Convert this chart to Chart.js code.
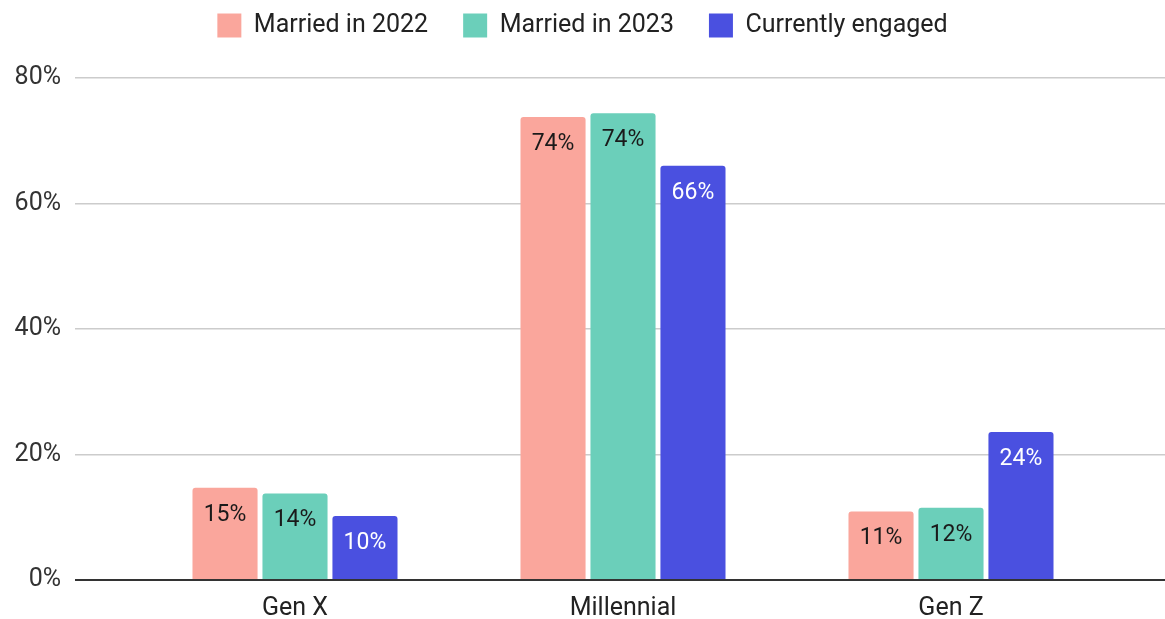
<!DOCTYPE html>
<html>
<head>
<meta charset="utf-8">
<title>Marriage by generation</title>
<script src="https://cdn.jsdelivr.net/npm/chart.js@4"></script>
<style>
    html, body { margin: 0; padding: 0; background: #fff; }
    #wrap { width: 1165px; height: 619px; }
</style>
</head>
<body>
<div id="wrap"><canvas id="genChart"></canvas></div>
<script>
// Share of couples by generation (percent)
const generations = ['Gen X', 'Millennial', 'Gen Z'];
const married2022 = [14.7, 73.8, 10.9];
const married2023 = [13.8, 74.4, 11.5];
const engaged = [10.2, 66.0, 23.6];
const seriesNames = ['Married in 2022', 'Married in 2023', 'Currently engaged'];
const yTicks = [0, 20, 40, 60, 80];

const FONT = 'Roboto, "Noto Sans", sans-serif';

// Percent labels written inside the top of each bar
const barLabels = {
    id: 'barLabels',
    afterDatasetsDraw(chart) {
        const ctx = chart.ctx;
        ctx.save();
        ctx.font = '23px ' + FONT;
        ctx.textAlign = 'center';
        ctx.textBaseline = 'middle';
        chart.data.datasets.forEach((ds, i) => {
            const meta = chart.getDatasetMeta(i);
            ctx.fillStyle = ds.labelColor;
            meta.data.forEach((bar, j) => {
                ctx.fillText(Math.round(ds.data[j]) + '%', bar.x, bar.y + 27);
            });
        });
        ctx.restore();
    }
};

// Make room between the legend and the plot
const legendSpace = {
    id: 'legendSpace',
    beforeInit(chart) {
        const fit = chart.legend.fit;
        chart.legend.fit = function() {
            fit.bind(chart.legend)();
            this.height = 100;
        };
    }
};

function gridColor(ctx) {
    return ctx.tick && ctx.tick.value === 0 ? '#333333' : '#cccccc';
}
function gridWidth(ctx) {
    return ctx.tick && ctx.tick.value === 0 ? 2 : 1.5;
}

new Chart(document.getElementById('genChart'), {
    type: 'bar',
    data: {
        labels: generations,
        datasets: [
            { label: seriesNames[0], data: married2022, backgroundColor: '#faa69c', labelColor: '#1a1a1a' },
            { label: seriesNames[1], data: married2023, backgroundColor: '#6bcfba', labelColor: '#1a1a1a' },
            { label: seriesNames[2], data: engaged, backgroundColor: '#4a50e0', labelColor: '#ffffff' }
        ]
    },
    options: {
        responsive: true,
        maintainAspectRatio: false,
        animation: false,
        layout: { padding: { top: -22, left: 0, right: 0, bottom: 0 } },
        datasets: {
            bar: {
                categoryPercentage: 0.64,
                barPercentage: 0.93,
                borderRadius: 3,
                borderSkipped: 'start'
            }
        },
        plugins: {
            legend: {
                position: 'top',
                labels: {
                    font: { family: FONT, size: 25 },
                    color: '#222222',
                    boxWidth: 24,
                    boxHeight: 24,
                    padding: 35
                }
            },
            tooltip: { enabled: false }
        },
        scales: {
            x: {
                grid: { display: false, drawTicks: false },
                border: { display: false },
                ticks: {
                    font: { family: FONT, size: 25 },
                    color: '#222222',
                    padding: 14
                },
                afterFit(scale) { scale.height = 39; }
            },
            y: {
                min: 0,
                max: 80,
                afterBuildTicks(scale) { scale.ticks = yTicks.map(v => ({ value: v })); },
                ticks: {
                    font: { family: FONT, size: 25 },
                    color: '#333333',
                    padding: 14,
                    callback: v => v + '%'
                },
                grid: { color: gridColor, lineWidth: gridWidth, tickLength: 56 },
                border: { display: false },
                afterFit(scale) { scale.width = 131; }
            },
            yRight: {
                position: 'right',
                min: 0,
                max: 80,
                afterBuildTicks(scale) { scale.ticks = yTicks.map(v => ({ value: v })); },
                ticks: { display: false },
                grid: { drawOnChartArea: false, color: gridColor, lineWidth: gridWidth, tickLength: 50 },
                border: { display: false },
                afterFit(scale) { scale.width = 50; }
            }
        }
    },
    plugins: [barLabels, legendSpace]
});
</script>
</body>
</html>
